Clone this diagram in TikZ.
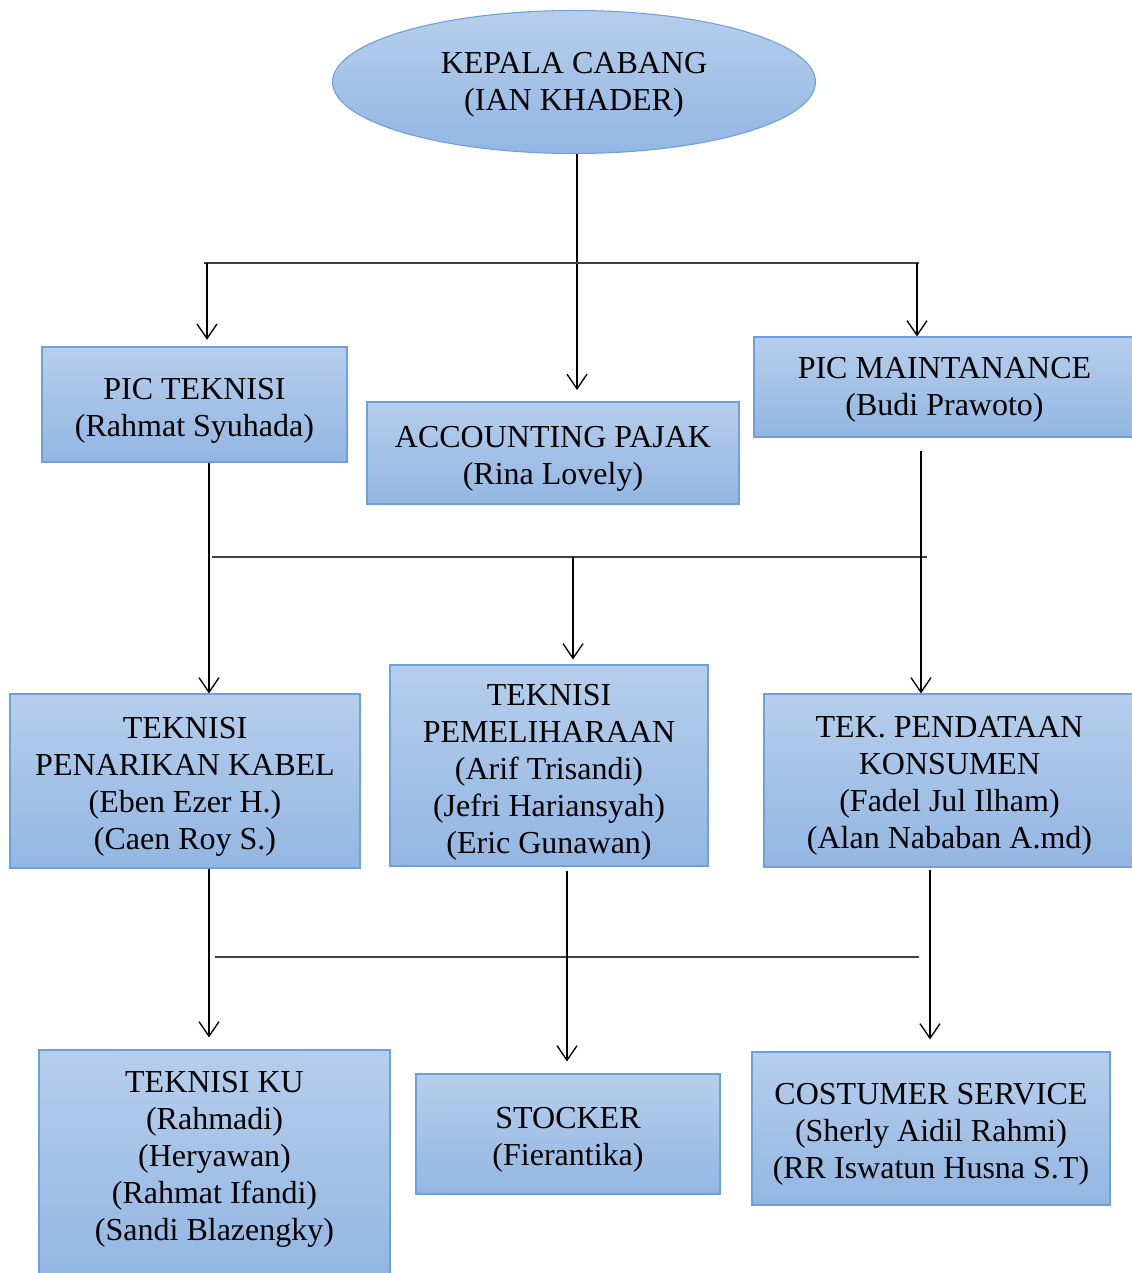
\documentclass[tikz,border=0pt]{standalone}
\usepackage{fontspec}
\setmainfont{Liberation Serif}
\usetikzlibrary{shapes.geometric,arrows.meta}
\definecolor{boxtop}{RGB}{182,206,236}
\definecolor{boxbot}{RGB}{147,182,226}
\definecolor{boxline}{RGB}{110,160,220}
\definecolor{hgray}{RGB}{64,64,64}
\newcommand{\topstrutx}[1]{\rule{0pt}{#1}}
\tikzset{
  orgbox/.style={rectangle, top color=boxtop, bottom color=boxbot, draw=boxline, line width=0.8pt,
    align=center, inner sep=0pt, font=\fontsize{24}{27.75}\selectfont},
  tdown/.style={execute at end node={\rule[-#1]{0pt}{0pt}}},
  arr/.style={draw=black, line width=1pt, -{Straight Barb[length=11pt,width=15pt,line width=1pt]}},
  hline/.style={draw=hgray, line width=1.1pt}
}
\begin{document}
\begin{tikzpicture}[x=0.75pt,y=-0.75pt]
\useasboundingbox (0,0) rectangle (1131,1273);
\node[orgbox, ellipse, minimum width=362.25pt, minimum height=107.25pt] (kepala) at (574,82) {\topstrutx{20.4pt}KEPALA CABANG\\(IAN KHADER)};
\node[orgbox, minimum width=228.75pt, minimum height=86.25pt] (pict) at (194.5,404.5) {\topstrutx{24.9pt}PIC TEKNISI\\(Rahmat Syuhada)};
\node[orgbox, minimum width=279pt, minimum height=76.5pt] (acc) at (553,453) {\topstrutx{24.9pt}ACCOUNTING PAJAK\\(Rina Lovely)};
\node[orgbox, minimum width=285.75pt, minimum height=75pt] (picm) at (944.5,387) {\topstrutx{20.4pt}PIC MAINTANANCE\\(Budi Prawoto)};
\node[orgbox, minimum width=262.5pt, minimum height=130.5pt] (pen) at (185,781) {\topstrutx{24.9pt}TEKNISI\\PENARIKAN KABEL\\(Eben Ezer H.)\\(Caen Roy S.)};
\node[orgbox, minimum width=238.5pt, minimum height=150.75pt] (pem) at (549,765.5) {\topstrutx{26.4pt}TEKNISI\\PEMELIHARAAN\\(Arif Trisandi)\\(Jefri Hariansyah)\\(Eric Gunawan)};
\node[orgbox, minimum width=278.25pt, minimum height=129.75pt] (pend) at (949.5,780.5) {\topstrutx{23.4pt}TEK. PENDATAAN\\KONSUMEN\\(Fadel Jul Ilham)\\(Alan Nababan A.md)};
\node[orgbox, minimum width=263.25pt, minimum height=169.5pt, tdown=10.25pt] (ku) at (214.5,1163) {TEKNISI KU\\(Rahmadi)\\(Heryawan)\\(Rahmat Ifandi)\\(Sandi Blazengky)};
\node[orgbox, minimum width=228pt, minimum height=90pt] (stk) at (568,1134) {\topstrutx{24.9pt}STOCKER\\(Fierantika)};
\node[orgbox, minimum width=268.5pt, minimum height=114.75pt] (cs) at (931,1128.5) {\topstrutx{24.9pt}COSTUMER SERVICE\\(Sherly Aidil Rahmi)\\(RR Iswatun Husna S.T)};

% level 1
\coordinate (a1) at (577,390);
\draw[arr] (kepala.south -| a1) -- (a1);
\coordinate (h1l) at (204,263);
\coordinate (h1r) at (919,263);
\draw[hline] (h1l) -- (h1r);
\coordinate (d1) at (207,263);
\coordinate (d2) at (917,263);
\draw[arr, shorten >=5pt] (d1) -- (d1 |- pict.north);
\draw[arr] (d2) -- (d2 |- picm.north);

% level 2
\coordinate (c209) at (209,0);
\draw[arr] (pict.south -| c209) -- (pen.north -| c209);
\coordinate (h2l) at (212,557);
\coordinate (h2r) at (927,557);
\draw[hline] (h2l) -- (h2r);
\coordinate (d3) at (573,557);
\draw[arr, shorten >=3.75pt] (d3) -- (d3 |- pem.north);
\coordinate (c921) at (921,0);
\draw[arr, shorten <=9.75pt] (picm.south -| c921) -- (pend.north -| c921);

% level 3
\draw[arr, shorten >=9pt] (pen.south -| c209) -- (ku.north -| c209);
\coordinate (h3l) at (215,957);
\coordinate (h3r) at (919,957);
\draw[hline] (h3l) -- (h3r);
\coordinate (c567) at (567,0);
\draw[arr, shorten <=3pt, shorten >=9pt] (pem.south -| c567) -- (stk.north -| c567);
\coordinate (c930) at (930,0);
\draw[arr, shorten <=2pt, shorten >=9pt] (pend.south -| c930) -- (cs.north -| c930);
\end{tikzpicture}
\end{document}
